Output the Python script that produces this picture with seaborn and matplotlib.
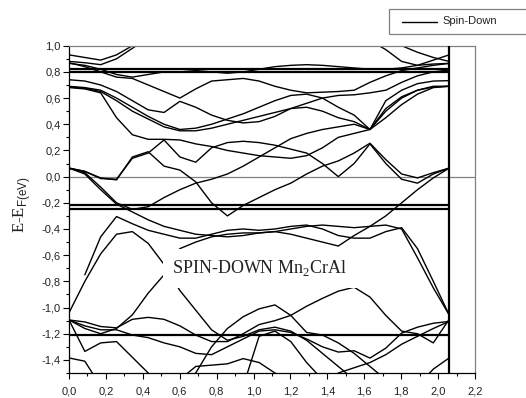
import numpy as np
import pandas as pd
import matplotlib
matplotlib.use("Agg")
import matplotlib.pyplot as plt
from matplotlib.patches import Rectangle
from matplotlib.lines import Line2D
from matplotlib.ticker import MultipleLocator, FuncFormatter
import seaborn as sns

nan = np.nan
# k-path points (25 points from 0 to 2.06)
K_END = 2.06
K = np.linspace(0, K_END, 25)

# band energies (eV) read at each k point
B1 = [0.93, 0.91, 0.89, 0.93, 1.00, 1.08, 1.15, 1.20, 1.20, 1.20, 1.20, 1.20, 1.20, 1.20, 1.20, 1.20, 1.20, 1.20, 1.15, 1.04, 0.97, 0.88, 0.85, 0.89, 0.93]
B2 = [0.88, 0.87, 0.855, 0.90, 0.98, 1.06, 1.15, 1.20, 1.20, 1.20, 1.20, 1.20, 1.20, 1.20, 1.20, 1.20, 1.20, 1.20, 1.20, 1.15, 1.08, 1.00, 0.95, 0.91, 0.88]
B3 = [0.865, 0.85, 0.82, 0.78, 0.76, 0.78, 0.80, 0.80, 0.81, 0.80, 0.79, 0.80, 0.82, 0.84, 0.85, 0.855, 0.85, 0.84, 0.83, 0.82, 0.82, 0.83, 0.85, 0.86, 0.865]
B4 = [0.87, 0.84, 0.80, 0.76, 0.75, 0.70, 0.65, 0.60, 0.67, 0.73, 0.74, 0.75, 0.73, 0.69, 0.66, 0.64, 0.645, 0.65, 0.66, 0.72, 0.77, 0.81, 0.83, 0.85, 0.865]
B5 = [0.74, 0.73, 0.70, 0.65, 0.58, 0.51, 0.49, 0.575, 0.53, 0.47, 0.43, 0.41, 0.42, 0.46, 0.52, 0.56, 0.60, 0.62, 0.625, 0.64, 0.66, 0.72, 0.77, 0.80, 0.815]
B6 = [0.69, 0.68, 0.66, 0.60, 0.53, 0.46, 0.40, 0.36, 0.37, 0.40, 0.44, 0.48, 0.53, 0.58, 0.62, 0.63, 0.60, 0.53, 0.47, 0.36, 0.58, 0.66, 0.71, 0.73, 0.733]
B7 = [0.685, 0.675, 0.65, 0.58, 0.50, 0.44, 0.38, 0.35, 0.35, 0.37, 0.40, 0.43, 0.46, 0.49, 0.52, 0.53, 0.50, 0.45, 0.42, 0.36, 0.52, 0.61, 0.66, 0.685, 0.69]
B8 = [0.68, 0.67, 0.64, 0.45, 0.32, 0.285, 0.285, 0.28, 0.25, 0.23, 0.20, 0.18, 0.16, 0.15, 0.14, 0.16, 0.22, 0.30, 0.33, 0.36, 0.50, 0.60, 0.66, 0.69, 0.69]
M1 = [0.065, 0.04, -0.01, -0.025, 0.15, 0.19, 0.08, 0.05, -0.04, -0.20, -0.30, -0.22, -0.16, -0.10, -0.05, 0.02, 0.08, 0.12, 0.18, 0.255, 0.13, 0.02, -0.01, 0.03, 0.065]
M2 = [0.065, 0.04, -0.015, -0.02, 0.14, 0.18, 0.28, 0.15, 0.11, 0.22, 0.26, 0.27, 0.26, 0.24, 0.21, 0.18, 0.10, 0.00, 0.10, 0.25, 0.10, -0.02, -0.05, 0.02, 0.065]
M3 = [0.065, 0.02, -0.10, -0.21, -0.27, -0.33, -0.38, -0.41, -0.44, -0.45, -0.46, -0.45, -0.43, -0.42, -0.44, -0.47, -0.50, -0.53, -0.45, -0.38, -0.30, -0.20, -0.10, -0.01, 0.065]
M4 = [0.065, 0.03, -0.08, -0.20, -0.25, -0.23, -0.16, -0.10, -0.05, -0.02, 0.02, 0.08, 0.15, 0.22, 0.29, 0.33, 0.36, 0.38, 0.40, 0.36, 0.45, 0.55, 0.63, 0.68, 0.69]
L1 = [nan, -0.75, -0.46, -0.305, -0.36, -0.41, -0.44, -0.47, -0.47, -0.44, -0.41, -0.40, -0.41, -0.40, -0.38, -0.37, -0.40, -0.45, -0.47, -0.47, -0.42, -0.39, -0.55, -0.80, -1.056]
L2 = [-1.04, -0.80, -0.59, -0.44, -0.42, -0.51, -0.67, -0.87, -1.02, -1.17, -1.25, -1.22, -1.17, -1.15, -1.18, -1.25, -1.35, -1.45, -1.55, -1.60, -1.60, -1.60, -1.60, -1.60, -1.60]
L3 = [-1.095, -1.16, -1.20, -1.16, -1.056, -0.89, -0.75, -0.55, -0.50, -0.46, -0.44, -0.43, -0.43, -0.42, -0.40, -0.38, -0.37, -0.38, -0.39, -0.38, -0.37, -0.40, -0.62, -0.85, -1.056]
L4 = [-1.095, -1.11, -1.145, -1.155, -1.09, -1.075, -1.09, -1.14, -1.21, -1.26, -1.26, -1.20, -1.13, -1.10, -1.06, -0.99, -0.93, -0.875, -0.845, -0.92, -1.06, -1.18, -1.20, -1.27, -1.09]
L5 = [-1.095, -1.14, -1.17, -1.17, -1.21, -1.23, -1.27, -1.30, -1.35, -1.36, -1.30, -1.24, -1.18, -1.17, -1.19, -1.24, -1.30, -1.34, -1.33, -1.386, -1.31, -1.195, -1.15, -1.12, -1.106]
L6 = [-1.095, -1.335, -1.27, -1.26, -1.38, -1.50, -1.60, -1.60, -1.60, -1.60, -1.60, -1.60, -1.60, -1.60, -1.60, -1.60, -1.60, -1.60, -1.60, -1.60, -1.60, -1.60, -1.60, -1.60, -1.60]
L7 = [-1.385, -1.41, -1.60, -1.60, -1.60, -1.60, -1.60, -1.60, -1.60, -1.60, -1.60, -1.60, -1.60, -1.60, -1.60, -1.60, -1.60, -1.60, -1.60, -1.60, -1.60, -1.60, -1.60, -1.47, -1.385]
L8 = [-1.60, -1.60, -1.60, -1.60, -1.60, -1.60, -1.60, -1.55, -1.45, -1.44, -1.43, -1.39, -1.42, -1.50, -1.60, -1.60, -1.60, -1.60, -1.60, -1.60, -1.60, -1.60, -1.60, -1.60, -1.60]
L9 = [-1.60, -1.60, -1.60, -1.60, -1.60, -1.60, -1.60, -1.60, -1.50, -1.30, -1.16, -1.07, -1.01, -0.98, -1.06, -1.19, -1.21, -1.27, -1.35, -1.45, -1.55, -1.60, -1.60, -1.60, -1.60]
L10 = [-1.60, -1.60, -1.60, -1.60, -1.60, -1.60, -1.60, -1.60, -1.60, -1.60, -1.60, -1.60, -1.60, -1.60, -1.60, -1.60, -1.60, -1.50, -1.46, -1.42, -1.36, -1.28, -1.22, -1.16, -1.106]
L11 = [-1.60, -1.60, -1.60, -1.60, -1.60, -1.60, -1.60, -1.60, -1.60, -1.60, -1.60, -1.60, -1.22, -1.18, -1.26, -1.42, -1.55, -1.60, -1.60, -1.60, -1.60, -1.60, -1.60, -1.60, -1.60]

BANDS = {"B1": B1, "B2": B2, "B3": B3, "B4": B4, "B5": B5, "B6": B6, "B7": B7, "B8": B8,
         "M1": M1, "M2": M2, "M3": M3, "M4": M4,
         "L1": L1, "L2": L2, "L3": L3, "L4": L4, "L5": L5, "L6": L6, "L7": L7,
         "L8": L8, "L9": L9, "L10": L10, "L11": L11}

# dispersionless (flat) bands
FLAT_LEVELS = [0.82, 0.80, -0.215, -0.25, -1.21]

X_TICKS = [0.0, 0.2, 0.4, 0.6, 0.8, 1.0, 1.2, 1.4, 1.6, 1.8, 2.0, 2.2]
Y_TICKS = [-1.4, -1.2, -1.0, -0.8, -0.6, -0.4, -0.2, 0.0, 0.2, 0.4, 0.6, 0.8, 1.0]

rows = []
for name, vals in BANDS.items():
    for kk, e in zip(K, vals):
        rows.append({"k": kk, "E": e, "band": name})
df = pd.DataFrame(rows)

sns.set_theme(style="white")
plt.rcParams["font.family"] = ["Liberation Sans", "DejaVu Sans"]
plt.rcParams["mathtext.fontset"] = "custom"
plt.rcParams["mathtext.rm"] = "Liberation Serif"
plt.rcParams["mathtext.sf"] = "Liberation Sans"

W, H = 526, 398
fig = plt.figure(figsize=(W / 100, H / 100), dpi=100)
ax = fig.add_axes([69 / W, 1 - 373 / H, (475 - 69) / W, (373 - 45.7) / H])

sns.lineplot(data=df, x="k", y="E", units="band", estimator=None, color="black",
             linewidth=1.0, ax=ax, legend=False, sort=False)

ax.hlines(FLAT_LEVELS, 0, K_END, colors="black", linewidth=1.6, zorder=3)
ax.axhline(0.0, color="#808080", linewidth=0.9, zorder=1)
ax.axvline(K_END, color="black", linewidth=1.6, zorder=4)

ax.set_xlim(0, 2.2)
ax.set_ylim(-1.5, 1.0)

ax.xaxis.set_minor_locator(MultipleLocator(0.1))
ax.yaxis.set_minor_locator(MultipleLocator(0.1))
ax.set_xticks(X_TICKS)
ax.set_yticks(Y_TICKS)
fmt = FuncFormatter(lambda v, p: ("%.1f" % v).replace(".", ",").replace("-0,0", "0,0"))
ax.xaxis.set_major_formatter(fmt)
ax.yaxis.set_major_formatter(fmt)
ax.tick_params(axis="both", which="major", direction="out", length=4, width=0.8,
               color="black", labelsize=8, labelcolor="#222222", left=True, bottom=True)
ax.tick_params(axis="both", which="minor", direction="out", length=2.5, width=0.8,
               color="black", left=True, bottom=True)
ax.tick_params(axis="y", which="major", pad=2)
ax.tick_params(axis="x", which="major", pad=6)
ax.set_xlabel("")
ax.set_ylabel("")

for s in ["left", "bottom"]:
    ax.spines[s].set_color("black")
    ax.spines[s].set_linewidth(0.9)
for s in ["top", "right"]:
    ax.spines[s].set_color("#808080")
    ax.spines[s].set_linewidth(0.9)

# y label
fig.text(22 / W, 1 - 205 / H, "E-E$_{\\mathsf{F(eV)}}$", rotation=90, ha="center", va="center",
         fontsize=12, family=["Liberation Serif", "DejaVu Serif"], color="#222222")

# annotation inside the plot
ax.text(1.035, -0.70, "SPIN-DOWN Mn$_{\\mathrm{2}}$CrAl", ha="center", va="center",
        fontsize=13, family=["Liberation Serif", "DejaVu Serif"], color="#222222", zorder=6,
        bbox=dict(facecolor="white", edgecolor="none", pad=7))

# legend box (top right, partly outside figure)
fig.patches.append(Rectangle((389 / W, 1 - 34 / H), 160 / W, 25 / H, transform=fig.transFigure,
                             facecolor="white", edgecolor="#808080", linewidth=0.9, figure=fig))
fig.lines.append(Line2D([402 / W, 437 / W], [1 - 21.5 / H, 1 - 21.5 / H], transform=fig.transFigure,
                        color="black", linewidth=1.0, figure=fig))
fig.text(442 / W, 1 - 21.5 / H, "Spin-Down", ha="left", va="center", fontsize=8, color="#222222")

fig.savefig("out.png", dpi=100)
